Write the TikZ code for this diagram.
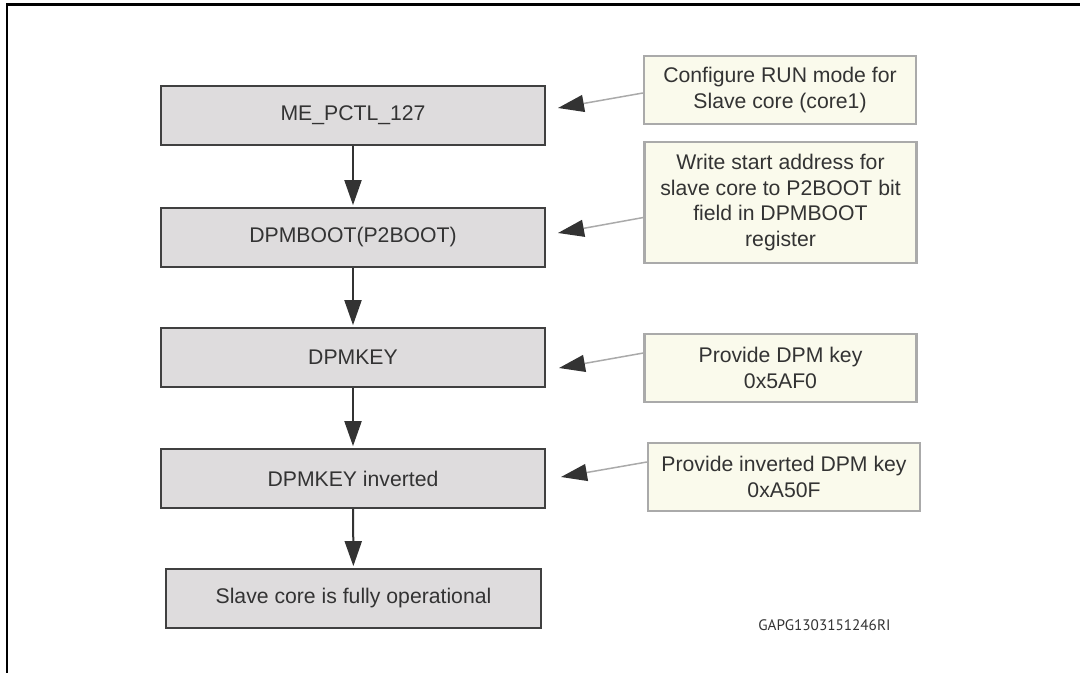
\documentclass[tikz,border=0pt]{standalone}
\usepackage{fontspec}
\setmainfont{Liberation Sans}
\newfontfamily\figidfont{PT Sans}
\usetikzlibrary{arrows.meta}
\definecolor{stepfill}{RGB}{222,220,221}
\definecolor{stepline}{RGB}{64,64,64}
\definecolor{notefill}{RGB}{250,250,236}
\definecolor{noteline}{RGB}{170,170,170}
\definecolor{inkgrey}{RGB}{51,51,51}
\tikzset{
  stepbox/.style = {draw=stepline, fill=stepfill, line width=0.85pt,
    minimum width=192pt, minimum height=29.5pt, inner sep=0pt,
    text=inkgrey, font=\fontsize{10.6}{12.7}\selectfont},
  notebox/.style = {draw=noteline, fill=notefill, line width=1.1pt,
    minimum width=136pt, minimum height=34pt, inner sep=0pt,
    align=center, text=inkgrey, font=\fontsize{10.6}{12.7}\selectfont},
  flowarrow/.style = {draw=inkgrey, line width=1pt,
    -{Triangle[length=12.5pt,width=8.5pt,color=inkgrey]}, shorten >=1pt},
  notearrow/.style = {draw=noteline, line width=0.75pt,
    -{Triangle[length=13pt,width=8.5pt,color=inkgrey]}}
}
\tikzset{>=latex}

\begin{document}
\begin{tikzpicture}[x=0.5pt,y=-0.5pt]
    \useasboundingbox (0,0) rectangle (1080,673);
    \draw[line width=1.1pt] (7,673) -- (7,4.5) -- (1080,4.5);
    \node[stepbox] (pctl) at (353,115.5) {ME\_PCTL\_127};
    \node[stepbox] (boot) at (353,237.5) {DPMBOOT(P2BOOT)};
    \node[stepbox] (key) at (353,357.5) {DPMKEY};
    \node[stepbox] (keyinv) at (353,478.5) {DPMKEY inverted};
    \node[stepbox, minimum width=187.5pt] (ready) at (353.5,598.5) {Slave core is fully operational};
    \node[notebox] (runnote) at (780,90) {Configure RUN mode for\\Slave core (core1)};
    \node[notebox, minimum height=60.5pt] (bootnote) at (780.5,202.5) {Write start address for\\slave core to P2BOOT bit\\field in DPMBOOT\\register};
    \node[notebox] (keynote) at (780.5,368) {Provide DPM key\\0x5AF0};
    \node[notebox] (invnote) at (784,477) {Provide inverted DPM key\\0xA50F};
    \node[anchor=base west, inner sep=0pt, text=inkgrey, font=\figidfont\fontsize{7.6}{9}\selectfont] (figid) at (758,630) {GAPG1303151246RI};
    \draw[flowarrow] (pctl) -- (boot);
    \draw[flowarrow] (boot) -- (key);
    \draw[flowarrow] (key) -- (keyinv);
    \draw[flowarrow] (keyinv) -- (ready);
    \coordinate (runtip) at (558,108);
    \coordinate (boottip) at (558,233);
    \coordinate (keytip) at (559,368);
    \coordinate (invtip) at (561,477);
    \draw[notearrow] ([yshift=-1.5pt]runnote.west) -- (runtip);
    \draw[notearrow] ([yshift=-7.5pt]bootnote.west) -- (boottip);
    \draw[notearrow] ([yshift=7.5pt]keynote.west) -- (keytip);
    \draw[notearrow] ([yshift=7.5pt]invnote.west) -- (invtip);
\end{tikzpicture}
\end{document}
